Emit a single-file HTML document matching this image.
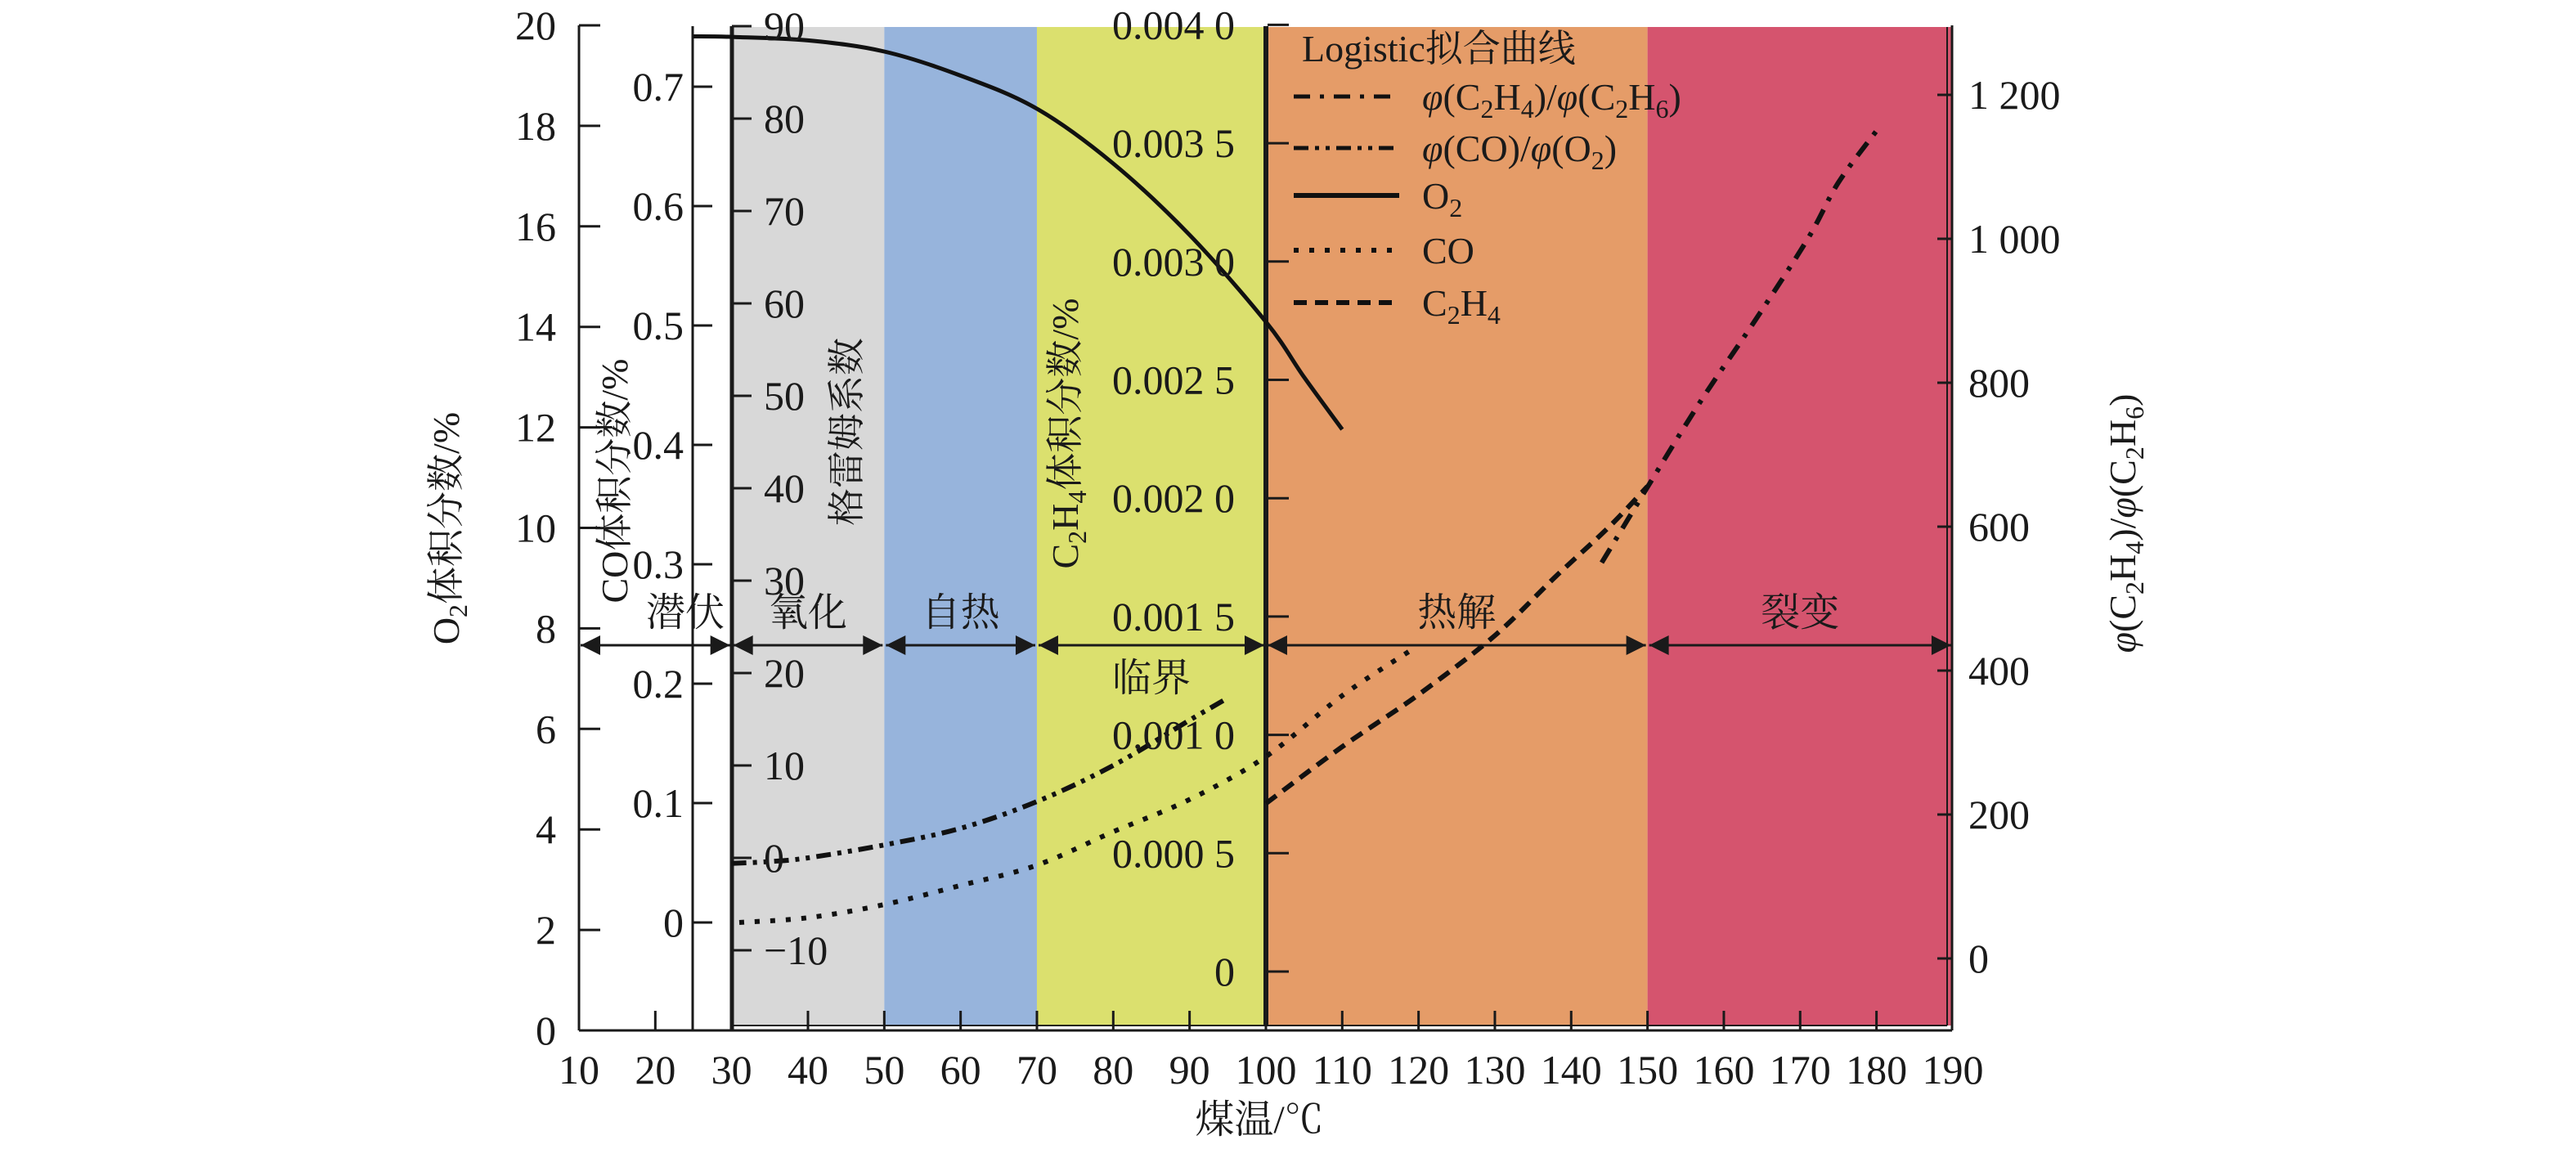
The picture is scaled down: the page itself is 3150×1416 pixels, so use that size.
<!DOCTYPE html>
<html><head><meta charset="utf-8"><style>
html,body{margin:0;padding:0;background:#fff;}
svg text{font-family:"Liberation Serif","Noto Serif CJK SC","Noto Sans CJK SC",serif;fill:#1a1a1a;}
</style></head><body>
<svg id="chart" width="3150" height="1411" viewBox="0 0 3150 1411" xmlns="http://www.w3.org/2000/svg">
<g id="bands"></g>
<g id="axes"></g>
<g id="curves"></g>
<g id="labels"></g>
</svg>
<script>
// ---- data ----
const o2T = [25,30,40,50,60,70,80,90,100,105,110];
const o2V = [19.78,19.77,19.7,19.48,19.0,18.34,17.25,15.83,14.1,13.0,11.96];
const coT = [31,40,50,60,70,80,90,100,110,119];
const coV = [0.0,0.004,0.015,0.031,0.048,0.076,0.103,0.139,0.19,0.228];
const grahamT = [30,35,40,50,60,70,80,90,95];
const grahamV = [-0.6,-0.4,0,1.4,3.2,6.1,10,14.9,17.3];
const c2h4T = [100,110,120,130,138,145,150];
const c2h4V = [0.00071,0.00095,0.00117,0.00142,0.00167,0.00188,0.00205];
const ratioT = [144,150,157,164,171,175,180];
const ratioV = [550,655,775,885,1000,1078,1150];
const xTicks = [10,20,30,40,50,60,70,80,90,100,110,120,130,140,150,160,170,180,190];
const o2Ticks = [0,2,4,6,8,10,12,14,16,18,20];
const coTicks = [0,0.1,0.2,0.3,0.4,0.5,0.6,0.7];
const coLabels = ["0","0.1","0.2","0.3","0.4","0.5","0.6","0.7"];
const grTicks = [-10,0,10,20,30,40,50,60,70,80,90];
const grLabels = ["\u221210","0","10","20","30","40","50","60","70","80","90"];
const c2Ticks = [0,0.0005,0.001,0.0015,0.002,0.0025,0.003,0.0035,0.004];
const c2Labels = ["0","0.000 5","0.001 0","0.001 5","0.002 0","0.002 5","0.003 0","0.003 5","0.004 0"];
const rTicks = [0,200,400,600,800,1000,1200];
const rLabels = ["0","200","400","600","800","1 000","1 200"];
const stageBounds = [10,30,50,70,100,150,190];
const stageNames = ["潜伏","氧化","自热","临界","热解","裂变"];
// ---- scales ----
const xS = t => 708 + (t-10)*9.333;
const yO2 = v => 1260 - v*61.45;
const yCO = v => 1128 - v*1460;
const yGr = v => 1049 - v*11.3;
const yC2 = v => 1188 - v*289400;
const yR = v => 1172 - v*0.88;
const NS = "http://www.w3.org/2000/svg";
function mk(parent, tag, attrs, text){
  const e = document.createElementNS(NS, tag);
  for (const k in attrs) e.setAttribute(k, attrs[k]);
  if (text !== undefined) e.textContent = text;
  document.getElementById(parent).appendChild(e);
  return e;
}
const bandColors = [null,"#d8d8d8","#97b4dc","#dbe06e","#e59c68","#d5546e"];
for (let i=1;i<stageNames.length;i++){
  const r = mk("bands","rect",{x:xS(stageBounds[i]),y:33,width:xS(stageBounds[i+1])-xS(stageBounds[i]),height:1221,fill:bandColors[i]});
  
  
}
const ax = [
  [708,31,708,1260,3],[708,1260,2387,1260,3],[895,1254,2381,1254,2],
  [847,32,847,1260,3],[895,32,895,1260,5],[1548,32,1548,1254,6],
  [2381,33,2381,1254,2],[2387,31,2387,1260,3]
];
ax.forEach(a=>{
  const l = mk("axes","line",{x1:a[0],y1:a[1],x2:a[2],y2:a[3],stroke:"#1a1a1a","stroke-width":a[4]});
  
  
});
const FS = 50;
xTicks.forEach(t=>{
  if (t>10 && t<190){
    const l = mk("axes","line",{x1:xS(t),y1:1260,x2:xS(t),y2:1236,stroke:"#1a1a1a","stroke-width":3});
    
    
  }
  const tx = mk("labels","text",{x:xS(t),y:1325,"font-size":FS,"text-anchor":"middle"}, String(t));
  
  
});
function yAxis(ticks, labels, yf, x1, x2, lx, anchor, name){
  ticks.forEach((v,i)=>{
    const l = mk("axes","line",{x1:x1,y1:yf(v),x2:x2,y2:yf(v),stroke:"#1a1a1a","stroke-width":3});
    
    
    const t = mk("labels","text",{x:lx,y:yf(v)+17,"font-size":FS,"text-anchor":anchor}, labels[i]);
    
    
  });
}
yAxis(o2Ticks, o2Ticks.map(String), yO2, 708, 734, 680, "end", "o2-axis");
yAxis(coTicks, coLabels, yCO, 847, 871, 836, "end", "co-axis");
yAxis(grTicks, grLabels, yGr, 895, 919, 934, "start", "graham-axis");
yAxis(c2Ticks, c2Labels, yC2, 1550, 1576, 1510, "end", "c2h4-axis");
yAxis(rTicks, rLabels, yR, 2369, 2387, 2407, "start", "ratio-axis");
mk("axes","defs",{}).innerHTML = '<marker id="ah" viewBox="0 0 10 10" refX="10" refY="5" markerWidth="34" markerHeight="24" markerUnits="userSpaceOnUse" orient="auto-start-reverse"><path d="M0,0 L10,5 L0,10 z" fill="#1a1a1a"/></marker>';
const labY = [748,748,748,828,748,748];
for (let i=0;i<stageNames.length;i++){
  const a = xS(stageBounds[i])+2, b = xS(stageBounds[i+1])-2;
  const l = mk("axes","line",{x1:a,y1:789,x2:b,y2:789,stroke:"#1a1a1a","stroke-width":3,"marker-start":"url(#ah)","marker-end":"url(#ah)"});
  
  
  let cx = (a+b)/2; if (i===0) cx = 838;
  const t = mk("labels","text",{x:cx,y:labY[i]+17,"font-size":48,"text-anchor":"middle"}, stageNames[i]);
  
  
}
// smooth curves (Catmull-Rom)
function curve(T, V, yf, dash, w, name, cap){
  const P = T.map((t,i)=>[xS(t), yf(V[i])]);
  let d = "M"+P[0][0].toFixed(1)+","+P[0][1].toFixed(1);
  for (let i=0;i<P.length-1;i++){
    const p0 = P[Math.max(0,i-1)], p1 = P[i], p2 = P[i+1], p3 = P[Math.min(P.length-1,i+2)];
    const c1 = [p1[0]+(p2[0]-p0[0])/6, p1[1]+(p2[1]-p0[1])/6];
    const c2 = [p2[0]-(p3[0]-p1[0])/6, p2[1]-(p3[1]-p1[1])/6];
    d += " C"+c1.map(v=>v.toFixed(1)).join(",")+" "+c2.map(v=>v.toFixed(1)).join(",")+" "+p2.map(v=>v.toFixed(1)).join(",");
  }
  const p = mk("curves","path",{d:d,fill:"none",stroke:"#111","stroke-width":w,"stroke-dasharray":dash,"stroke-linecap":cap||"butt"});
  
  
}
curve(o2T,o2V,yO2,"none",5,"o2-curve");
curve(coT,coV,yCO,"6 13",6,"co-curve");
curve(grahamT,grahamV,yGr,"18 8 5 8 5 8",6,"co-o2-ratio-curve");
curve(c2h4T,c2h4V,yC2,"16 10",6,"c2h4-curve");
curve(ratioT,ratioV,yR,"20 12 5 12",6,"c2h4-c2h6-ratio-curve");
const lg = [
  ["20 12 5 12",5,"<tspan font-style='italic'>φ</tspan>(C<tspan font-size='32' dy='10'>2</tspan><tspan dy='-10'>H</tspan><tspan font-size='32' dy='10'>4</tspan><tspan dy='-10'>)/</tspan><tspan font-style='italic'>φ</tspan>(C<tspan font-size='32' dy='10'>2</tspan><tspan dy='-10'>H</tspan><tspan font-size='32' dy='10'>6</tspan><tspan dy='-10'>)</tspan>",118],
  ["18 8 5 8 5 8",5,"<tspan font-style='italic'>φ</tspan>(CO)/<tspan font-style='italic'>φ</tspan>(O<tspan font-size='32' dy='10'>2</tspan><tspan dy='-10'>)</tspan>",181],
  ["none",6,"O<tspan font-size='32' dy='10'>2</tspan>",239],
  ["6 13",6,"CO",306],
  ["16 10",6,"C<tspan font-size='32' dy='10'>2</tspan><tspan dy='-10'>H</tspan><tspan font-size='32' dy='10'>4</tspan>",370]
];
const hd = mk("labels","text",{x:1592,y:75,"font-size":46}, "Logistic拟合曲线");


lg.forEach(r=>{
  const l = mk("labels","line",{x1:1582,y1:r[3],x2:1711,y2:r[3],stroke:"#111","stroke-width":r[1],"stroke-dasharray":r[0]});
  
  
  const t = mk("labels","text",{x:1739,y:r[3]+16,"font-size":46});
  t.innerHTML = r[2];
  
  
});
function vtitle(x,y,html,name){
  const t = mk("labels","text",{x:0,y:0,"font-size":46,"text-anchor":"middle",transform:`translate(${x},${y}) rotate(-90)`});
  t.innerHTML = html;
  
  
}
vtitle(561,646,"O<tspan font-size='32' dy='10'>2</tspan><tspan dy='-10'>体积分数/%</tspan>","o2-axis-title");
vtitle(767,588,"CO体积分数/%","co-axis-title");
vtitle(1051,528,"格雷姆系数","graham-axis-title");
vtitle(1318,530,"C<tspan font-size='32' dy='10'>2</tspan><tspan dy='-10'>H</tspan><tspan font-size='32' dy='10'>4</tspan><tspan dy='-10'>体积分数/%</tspan>","c2h4-axis-title");
vtitle(2611,640,"<tspan font-style='italic'>φ</tspan>(C<tspan font-size='32' dy='10'>2</tspan><tspan dy='-10'>H</tspan><tspan font-size='32' dy='10'>4</tspan><tspan dy='-10'>)/</tspan><tspan font-style='italic'>φ</tspan>(C<tspan font-size='32' dy='10'>2</tspan><tspan dy='-10'>H</tspan><tspan font-size='32' dy='10'>6</tspan><tspan dy='-10'>)</tspan>","ratio-axis-title");
const xt = mk("labels","text",{x:1540,y:1385,"font-size":48,"text-anchor":"middle"}, "煤温/℃");


</script>
</body></html>
